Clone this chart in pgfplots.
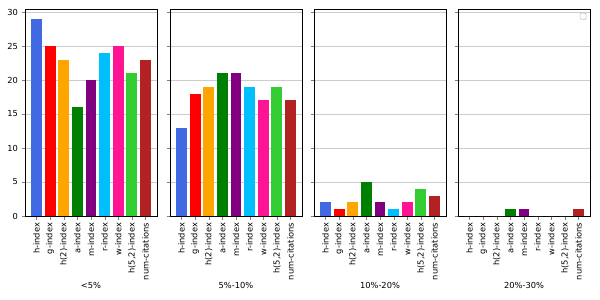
\documentclass[border=0pt]{standalone}
\usepackage{fontspec}
\setmainfont{DejaVu Sans}
\usepackage{pgfplots}
\pgfplotsset{compat=1.18}
\definecolor{cA}{HTML}{4169E1}
\definecolor{cB}{HTML}{FF0000}
\definecolor{cC}{HTML}{FFA500}
\definecolor{cD}{HTML}{008000}
\definecolor{cE}{HTML}{800080}
\definecolor{cF}{HTML}{00BFFF}
\definecolor{cG}{HTML}{FF1493}
\definecolor{cH}{HTML}{32CD32}
\definecolor{cI}{HTML}{B22222}
\pgfplotsset{
  panel/.style={
    scale only axis, width=132pt, height=207pt,
    ymin=0, ymax=30.45, xmin=-0.84, xmax=8.84,
    ytick={0,5,...,30}, xtick={0,...,8},
    xticklabels={h-index,g-index,h(2)-index,a-index,m-index,r-index,w-index,{h(5,2)-index},num-citations},
    x tick label style={rotate=90, anchor=east},
    tick align=outside, tick pos=left,
    major tick length=3.5pt,
    ymajorgrids, grid style={black!20, line width=0.8pt},
    tick label style={font=\fontsize{8.3}{10}\selectfont},
    label style={font=\fontsize{8.3}{10}\selectfont},
    xlabel style={yshift=5pt},
    /pgf/number format/assume math mode=true,
    axis line style={line width=0.8pt},
    anchor=south west,
  },
  b/.style={ybar, bar width=0.8, bar shift=0pt, fill=#1, draw=none},
}
\begin{document}
\begin{tikzpicture}
\useasboundingbox (-25pt,-84pt) rectangle (575pt,216pt);
\begin{axis}[panel, at={(0pt,0pt)}, xlabel={<5\%}]
\addplot[b=cA] coordinates {(0,29)};
\addplot[b=cB] coordinates {(1,25)};
\addplot[b=cC] coordinates {(2,23)};
\addplot[b=cD] coordinates {(3,16)};
\addplot[b=cE] coordinates {(4,20)};
\addplot[b=cF] coordinates {(5,24)};
\addplot[b=cG] coordinates {(6,25)};
\addplot[b=cH] coordinates {(7,21)};
\addplot[b=cI] coordinates {(8,23)};
\end{axis}
\begin{axis}[panel, at={(145pt,0pt)}, yticklabels={}, xlabel={5\%-10\%}]
\addplot[b=cA] coordinates {(0,13)};
\addplot[b=cB] coordinates {(1,18)};
\addplot[b=cC] coordinates {(2,19)};
\addplot[b=cD] coordinates {(3,21)};
\addplot[b=cE] coordinates {(4,21)};
\addplot[b=cF] coordinates {(5,19)};
\addplot[b=cG] coordinates {(6,17)};
\addplot[b=cH] coordinates {(7,19)};
\addplot[b=cI] coordinates {(8,17)};
\end{axis}
\begin{axis}[panel, at={(289pt,0pt)}, yticklabels={}, xlabel={10\%-20\%}]
\addplot[b=cA] coordinates {(0,2)};
\addplot[b=cB] coordinates {(1,1)};
\addplot[b=cC] coordinates {(2,2)};
\addplot[b=cD] coordinates {(3,5)};
\addplot[b=cE] coordinates {(4,2)};
\addplot[b=cF] coordinates {(5,1)};
\addplot[b=cG] coordinates {(6,2)};
\addplot[b=cH] coordinates {(7,4)};
\addplot[b=cI] coordinates {(8,3)};
\end{axis}
\begin{axis}[panel, at={(433pt,0pt)}, yticklabels={}, xlabel={20\%-30\%}]
\addplot[b=cA] coordinates {(0,0)};
\addplot[b=cB] coordinates {(1,0)};
\addplot[b=cC] coordinates {(2,0)};
\addplot[b=cD] coordinates {(3,1)};
\addplot[b=cE] coordinates {(4,1)};
\addplot[b=cF] coordinates {(5,0)};
\addplot[b=cG] coordinates {(6,0)};
\addplot[b=cH] coordinates {(7,0)};
\addplot[b=cI] coordinates {(8,1)};
\draw[black!25, line width=0.6pt, rounded corners=1pt, fill=white] (rel axis cs:0.925,0.95) rectangle (rel axis cs:0.97,0.98);
\end{axis}
\end{tikzpicture}
\end{document}
